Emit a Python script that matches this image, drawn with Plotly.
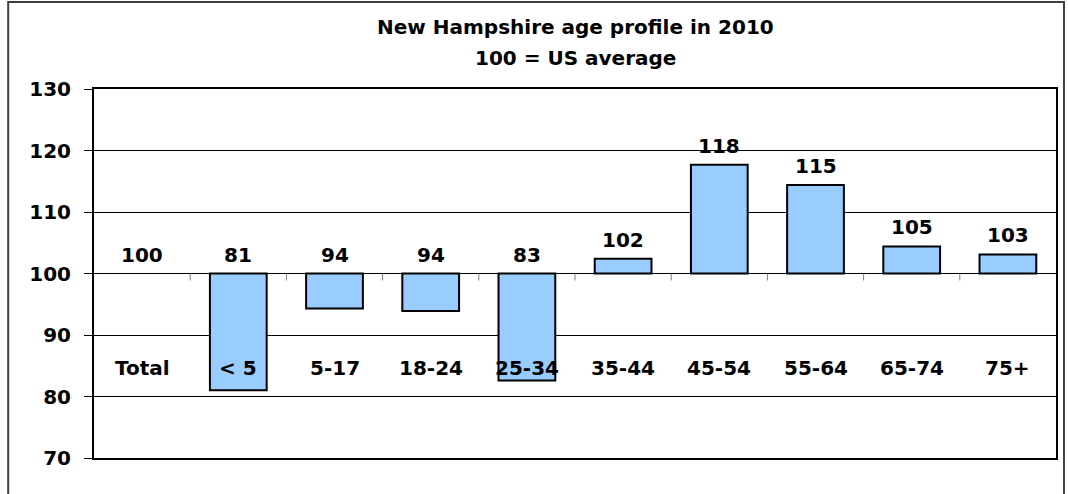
import plotly.graph_objects as go

# age groups and index values (100 = US average)
categories = ["Total", "< 5", "5-17", "18-24", "25-34", "35-44", "45-54", "55-64", "65-74", "75+"]
values = [100, 81.0, 94.3, 93.9, 82.6, 102.4, 117.7, 114.4, 104.4, 103.1]
value_labels = ["100", "81", "94", "94", "83", "102", "118", "115", "105", "103"]
y_ticks = [70, 80, 90, 100, 110, 120, 130]
title_lines = ["New Hampshire age profile in 2010", "100 = US average"]

BASE = 100
FONT = "DejaVu Sans"
SIZE = 20

fig = go.Figure()

# bars hang off the 100 line (no outline for a zero-height bar)
fig.add_trace(go.Bar(
    x=list(range(len(categories))),
    y=[v - BASE for v in values],
    base=BASE,
    width=0.59,
    marker=dict(color="#99CCFF",
                line=dict(color="black", width=[0 if v == BASE else 2 for v in values])),
    hoverinfo="skip",
))

# value labels sit above the bar top, or above the 100 line for the short ones
for i, (v, lab) in enumerate(zip(values, value_labels)):
    fig.add_annotation(x=i, y=max(v, BASE), text=f"<b>{lab}</b>", showarrow=False,
                       yanchor="bottom", yshift=5,
                       font=dict(family=FONT, size=SIZE, color="black"))

# category names drawn inside the plot, below the 100 line
for i, c in enumerate(categories):
    fig.add_annotation(x=i, y=84.6, text=f"<b>{c}</b>", showarrow=False,
                       font=dict(family=FONT, size=SIZE, color="black"))

# two title lines, spaced like the original
for line, ty in zip(title_lines, [1.168, 1.084]):
    fig.add_annotation(xref="paper", yref="paper", x=0.5, y=ty, yanchor="middle",
                       text=f"<b>{line}</b>", showarrow=False,
                       font=dict(family=FONT, size=SIZE, color="black"))

# little category ticks on the 100 line
for i in range(len(categories) - 1):
    fig.add_shape(type="line", xref="x", yref="y", ysizemode="pixel", yanchor=BASE,
                  x0=i + 0.5, x1=i + 0.5, y0=0, y1=-7,
                  line=dict(color="#808080", width=1))

# outer chart frame
fig.add_shape(type="rect", xref="paper", yref="paper",
              x0=-0.0892, x1=1.0083, y0=-0.2, y1=1.2358,
              line=dict(color="#404040", width=2), layer="below")

fig.update_layout(
    width=1068, height=494,
    margin=dict(l=94, r=10, t=89, b=36),
    paper_bgcolor="white", plot_bgcolor="white",
    showlegend=False,
    xaxis=dict(range=[-0.5, len(categories) - 0.5], showticklabels=False, showgrid=False,
               zeroline=False, showline=True, mirror=True, linecolor="black", linewidth=2,
               ticks=""),
    yaxis=dict(range=[70, 130], tickvals=y_ticks, showgrid=True, gridcolor="black", gridwidth=1,
               zeroline=False, showline=True, mirror=True, linecolor="black", linewidth=2,
               ticks="outside", ticklen=8, tickcolor="black", ticklabelstandoff=9,
               tickfont=dict(family=FONT, size=SIZE, color="black", weight="bold")),
)

fig.write_html("out.html", config={"displayModeBar": False},
               post_script="document.body.style.margin='0';")
